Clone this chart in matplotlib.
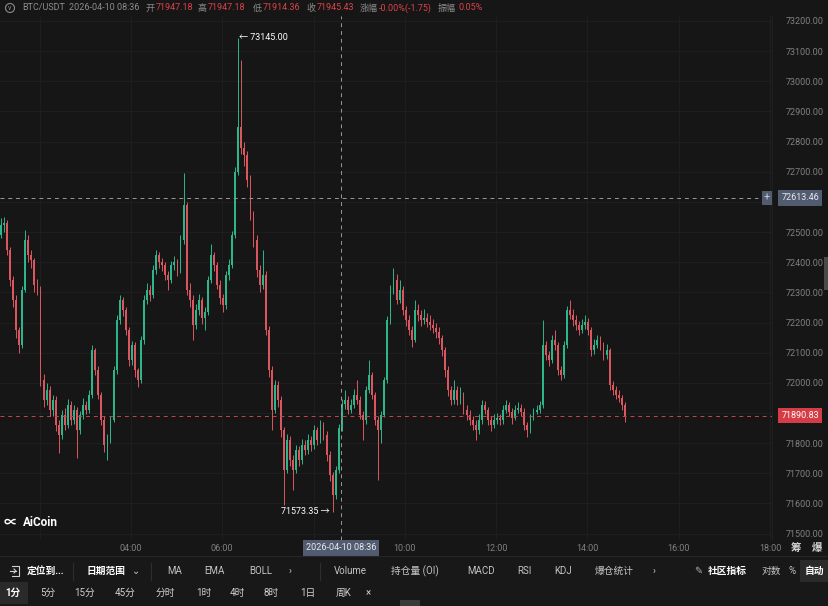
import numpy as np
import matplotlib.pyplot as plt
from matplotlib.patches import Rectangle, Circle
from matplotlib.transforms import blended_transform_factory

plt.rcParams['font.family'] = ['Roboto', 'Noto Sans CJK SC', 'DejaVu Sans']

# --- data (4-minute bars) ---
bar_start = 65          # minutes after midnight, centre of first bar
bar_minutes = 4
first_open = 72460

closes = [
    72490, 72525, 72530, 72440, 72340, 72275, 72175, 72125, 72308, 72474,
    72424, 72407, 72325, 72308, 72009, 71943, 71976, 71910, 71943, 71860,
    71827, 71893, 71860, 71927, 71877, 71910, 71843, 71893, 71927, 71910,
    71960, 72109, 72042, 71960, 71877, 71794, 71810, 71877, 72042, 72208,
    72275, 72241, 72175, 72076, 72125, 72042, 72009, 72142, 72275, 72308,
    72291, 72374, 72424, 72400, 72390, 72358, 72341, 72390, 72400, 72374,
    72474, 72590, 72308, 72275, 72192, 72241, 72275, 72215, 72235, 72341,
    72424, 72390, 72325, 72281, 72258, 72358, 72390, 72490, 72700, 72850,
    72780, 72755, 72672, 72556, 72474, 72374, 72325, 72358, 72175, 72042,
    71910, 71993, 71943, 71843, 71711, 71810, 71744, 71711, 71777, 71744,
    71794, 71777, 71810, 71794, 71843, 71810, 71860, 71827, 71760, 71694,
    71628, 71711, 71850, 71930, 71943, 71910, 71927, 71960, 71943, 71893,
    71877, 71976, 72026, 71960, 71877, 71843, 71893, 72009, 72208, 72308,
    72341, 72275, 72308, 72241, 72208, 72175, 72142, 72241, 72225, 72208,
    72215, 72201, 72192, 72182, 72170, 72150, 72109, 72042, 71976, 71943,
    71976, 71943, 71960, 71910, 71893, 71877, 71860, 71843, 71877, 71927,
    71910, 71877, 71860, 71877, 71883, 71877, 71910, 71927, 71903, 71883,
    71910, 71917, 71903, 71860, 71843, 71883, 71903, 71910, 71927, 72125,
    72092, 72076, 72142, 72125, 72042, 72026, 72125, 72241, 72225, 72208,
    72192, 72175, 72192, 72201, 72175, 72109, 72125, 72142, 72125, 72092,
    72109, 71993, 71976, 71960, 71950, 71927, 71891,
]
highs = [
    72530, 72545, 72550, 72540, 72450, 72355, 72290, 72185, 72320, 72507,
    72490, 72440, 72415, 72345, 72320, 72030, 72000, 71990, 71960, 71955,
    71875, 71910, 71915, 71945, 71940, 71925, 71920, 71905, 71950, 71940,
    71975, 72125, 72115, 72055, 71970, 71890, 71830, 71890, 72055, 72225,
    72290, 72285, 72250, 72185, 72140, 72135, 72050, 72155, 72290, 72330,
    72325, 72390, 72440, 72435, 72415, 72400, 72370, 72405, 72420, 72410,
    72490, 72696, 72600, 72330, 72290, 72260, 72295, 72285, 72250, 72355,
    72460, 72435, 72400, 72340, 72295, 72370, 72410, 72505, 72715, 73145,
    73070, 72800, 72770, 72690, 72570, 72490, 72390, 72440, 72370, 72190,
    72055, 72010, 72005, 71955, 71855, 71830, 71825, 71760, 71795, 71790,
    71815, 71810, 71830, 71825, 71860, 71855, 71877, 71870, 71840, 71775,
    71705, 71725, 71865, 71947, 71976, 71955, 71945, 71980, 72009, 71955,
    71905, 71990, 72076, 72035, 71970, 71890, 71905, 72020, 72220, 72325,
    72381, 72360, 72340, 72320, 72255, 72225, 72190, 72275, 72260, 72240,
    72245, 72230, 72225, 72210, 72200, 72185, 72160, 72120, 72055, 71990,
    72009, 71990, 71985, 71970, 71925, 71910, 71890, 71875, 71895, 71943,
    71940, 71920, 71890, 71895, 71900, 71895, 71925, 71943, 71935, 71915,
    71925, 71935, 71930, 71915, 71870, 71895, 71915, 71925, 71940, 72208,
    72140, 72105, 72160, 72175, 72135, 72055, 72140, 72255, 72275, 72245,
    72225, 72205, 72210, 72225, 72215, 72185, 72145, 72160, 72155, 72135,
    72130, 72115, 72005, 71990, 71975, 71960, 71935,
]
lows = [
    72445, 72480, 72500, 72425, 72320, 72250, 72150, 72100, 72115, 72300,
    72400, 72380, 72300, 72290, 71990, 71920, 71925, 71890, 71890, 71840,
    71767, 71815, 71845, 71850, 71860, 71865, 71750, 71830, 71880, 71895,
    71900, 71950, 72025, 71945, 71860, 71770, 71744, 71800, 71870, 72030,
    72195, 72220, 72160, 72055, 72060, 72020, 71985, 72000, 72130, 72260,
    72270, 72280, 72360, 72380, 72370, 72340, 72308, 72330, 72375, 72355,
    72365, 72460, 72290, 72250, 72142, 72180, 72225, 72195, 72175, 72225,
    72330, 72370, 72310, 72260, 72235, 72245, 72340, 72380, 72480, 72690,
    72760, 72720, 72650, 72540, 72450, 72350, 72300, 72310, 72160, 72020,
    71843, 71900, 71920, 71820, 71595, 71700, 71725, 71644, 71700, 71725,
    71730, 71760, 71765, 71775, 71780, 71795, 71800, 71810, 71740, 71675,
    71573, 71615, 71700, 71840, 71914, 71895, 71900, 71915, 71930, 71880,
    71810, 71865, 71965, 71945, 71860, 71678, 71800, 71885, 72000, 72195,
    72295, 72260, 72265, 72225, 72190, 72160, 72120, 72135, 72205, 72190,
    72195, 72185, 72175, 72165, 72150, 72130, 72090, 72020, 71955, 71925,
    71930, 71925, 71930, 71895, 71875, 71860, 71843, 71810, 71830, 71865,
    71895, 71860, 71840, 71850, 71865, 71860, 71865, 71900, 71890, 71865,
    71875, 71900, 71890, 71845, 71820, 71835, 71875, 71895, 71900, 71915,
    72075, 72055, 72065, 72110, 72025, 72009, 72015, 72115, 72210, 72190,
    72175, 72160, 72165, 72180, 72160, 72090, 72095, 72115, 72110, 72075,
    72080, 71975, 71960, 71945, 71935, 71910, 71870,
]

price_ticks = list(range(71500, 73201, 100))
hidden_price_labels = [72600, 71900]   # covered by the marker boxes
time_tick_min = [240, 360, 600, 720, 840, 960, 1080]
time_tick_labels = ['04:00', '06:00', '10:00', '12:00', '14:00', '16:00', '18:00']
grid_min = [120, 240, 360, 480, 600, 720, 840, 960, 1080]

crosshair_min = 516           # 08:36
crosshair_price = 72613.46
last_price = 71890.83
peak_price, peak_bar = 73145.00, 79
trough_price, trough_bar = 71573.35, 110

header = [
    (22, 'BTC/USDT', 'label'), (69, '2026-04-10 08:36', 'label'),
    (146, '开', 'label'), (156, '71947.18', 'value'),
    (198, '高', 'label'), (208, '71947.18', 'value'),
    (253, '低', 'label'), (263, '71914.36', 'value'),
    (306, '收', 'label'), (317, '71945.43', 'value'),
    (360, '涨幅', 'label'), (379, '-0.00%(-1.75)', 'value'),
    (438, '振幅', 'label'), (459, '0.05%', 'value'),
]
toolbar1 = [
    (27, '定位到...', True), (87, '日期范围', True), (132, '⌄', False),
    (167, 'MA', False), (204, 'EMA', False), (249, 'BOLL', False), (289, '›', False),
    (334, 'Volume', False), (391, '持仓量 (OI)', False), (467, 'MACD', False),
    (517, 'RSI', False), (554, 'KDJ', False), (595, '爆仓统计', False), (653, '›', False),
    (708, '社区指标', True), (762, '对数', False), (789, '%', False), (805, '自动', True),
]
toolbar2 = ['1分', '5分', '15分', '45分', '分时', '1时', '4时', '8时', '1日', '周K', '×']
toolbar2_x = [5, 40, 74, 115, 156, 196, 230, 264, 300, 336, 366]

# --- colours ---
BG = '#161616'
UP = '#2bb68c'
DOWN = '#dc5660'
GRID = '#202020'
AXIS_TXT = '#808080'
SLATE = '#525c70'
RED_BOX = '#d63c45'

W, H = 829, 606
fig = plt.figure(figsize=(W / 100, H / 100), dpi=100, facecolor=BG)

ax_l, ax_r, ax_t, ax_b = 0, 772, 16, 540
ax = fig.add_axes([ax_l / W, 1 - ax_b / H, (ax_r - ax_l) / W, (ax_b - ax_t) / H])
ax.set_facecolor(BG)
px_per_100 = 30.15
ymax = 73200 + (21 - ax_t) / px_per_100 * 100
ymin = ymax - (ax_b - ax_t) / px_per_100 * 100
ax.set_ylim(ymin, ymax)
ax.set_xlim(67.8, 67.8 + (ax_r - ax_l) / 0.7608)

for s in ['top', 'left', 'bottom']:
    ax.spines[s].set_visible(False)
ax.spines['right'].set_color('#232323')
ax.spines['right'].set_linewidth(0.6)

for p in price_ticks:
    ax.axhline(p, color=GRID, lw=0.6, zorder=0)
for m in grid_min:
    ax.axvline(m, color=GRID, lw=0.6, zorder=0)

# candles
n = len(closes)
t = bar_start + bar_minutes * np.arange(n)
c = np.array(closes, float)
o = np.array([first_open] + closes[:-1], float)
hi = np.maximum(np.array(highs, float), np.maximum(o, c))
lo = np.minimum(np.array(lows, float), np.minimum(o, c))
cols = np.where(c >= o, UP, DOWN)
ax.vlines(t, lo, hi, colors=cols, lw=0.7, zorder=2)
body_lo = np.minimum(o, c)
body_h = np.maximum(np.abs(c - o), 3)
ax.bar(t, body_h, bottom=body_lo, width=2.4, color=cols, lw=0, zorder=3)

# reference lines
ax.axhline(crosshair_price, xmax=758 / 772, color='#9a9a9a', lw=0.7, ls=(0, (4, 4)), zorder=4)
ax.axvline(crosshair_min, color='#9a9a9a', lw=0.7, ls=(0, (4, 4)), zorder=4)
ax.axhline(last_price, xmax=775 / 772, color='#c9444a', lw=0.7, ls=(0, (4, 4)), zorder=4)

# axis ticks
ax.yaxis.tick_right()
ax.set_yticks(price_ticks)
ax.set_yticklabels(['' if p in hidden_price_labels else f'{p:.2f}' for p in price_ticks])
ax.set_xticks(time_tick_min)
ax.set_xticklabels(time_tick_labels)
ax.tick_params(axis='y', length=0, pad=10, labelsize=6.5, labelcolor=AXIS_TXT)
ax.tick_params(axis='x', length=0, pad=3, labelsize=6.5, labelcolor=AXIS_TXT)

# extreme annotations
ax.text(t[peak_bar] + 1, peak_price, f'← {peak_price:.2f}', color='white',
        fontsize=6.5, va='center', ha='left', zorder=6)
ax.text(t[trough_bar] - 4, trough_price, f'{trough_price:.2f} →', color='white',
        fontsize=6.5, va='center', ha='right', zorder=6)

# price label boxes on the right axis
bl = blended_transform_factory(ax.transAxes, ax.transData)
ax.text(1.012, crosshair_price, f'{crosshair_price:.2f}', transform=bl, color='#e6e9ef',
        fontsize=6.5, va='center', ha='left', clip_on=False, zorder=7,
        bbox=dict(boxstyle='square,pad=0.35', fc=SLATE, ec='none'))
ax.text(0.9935, crosshair_price, '+', transform=bl, color='#c8ccd4',
        fontsize=8, va='center', ha='center', clip_on=False, zorder=7,
        bbox=dict(boxstyle='square,pad=0.15', fc=SLATE, ec='none'))
ax.text(1.012, last_price, f'{last_price:.2f}', transform=bl, color='white',
        fontsize=6.5, va='center', ha='left', clip_on=False, zorder=7,
        bbox=dict(boxstyle='square,pad=0.35', fc=RED_BOX, ec='none'))

# crosshair time box
bx = blended_transform_factory(ax.transData, ax.transAxes)
ax.text(crosshair_min, -(548 - ax_b) / (ax_b - ax_t), '2026-04-10 08:36', transform=bx,
        color='#e6e9ef', fontsize=6.5, va='center', ha='center', clip_on=False, zorder=7,
        bbox=dict(boxstyle='square,pad=0.35', fc=SLATE, ec='none'))

# --- overlay in pixel coordinates for UI chrome ---
ov = fig.add_axes([0, 0, 1, 1], zorder=10)
ov.set_xlim(0, W)
ov.set_ylim(H, 0)
ov.axis('off')
ov.patch.set_alpha(0)

ov.add_patch(Circle((10, 8), 4.5, fill=False, ec='#8a8a8a', lw=0.8))
ov.text(10, 8.5, 'v', color='#8a8a8a', fontsize=5, ha='center', va='center')
for x, s, kind in header:
    ov.text(x, 8, s, color='#8c8c8c' if kind == 'label' else '#d9434a',
            fontsize=6.5, ha='left', va='center')

ov.text(791, 548, '筹', color='#d8d8d8', fontsize=7.5, fontweight='bold', ha='left', va='center')
ov.text(812, 548, '爆', color='#d8d8d8', fontsize=7.5, fontweight='bold', ha='left', va='center')

ov.text(4, 523, '∝', color='white', fontsize=10, fontweight='bold', ha='left', va='center')
ov.text(23, 523, 'AiCoin', color='white', fontsize=8.5, fontweight='bold', ha='left', va='center')

# toolbar
ov.plot([0, W], [556, 556], color='#262626', lw=0.8)
ov.add_patch(Rectangle((0, 557), W, 49, fc='#181818', ec='none', zorder=0))
ov.add_patch(Rectangle((800, 560), 29, 22, fc='#2a2a2a', ec='none'))
ov.add_patch(Rectangle((0, 582), 28, 22, fc='#2a2a2a', ec='none'))
for sx in [73, 151, 320]:
    ov.plot([sx, sx], [563, 580], color='#2e2e2e', lw=0.8)
# "locate" icon drawn as a shape (no installed font has the glyph)
ov.plot([12, 19, 19, 12], [566, 566, 576, 576], color='#d0d0d0', lw=0.8)
ov.plot([10, 16], [571, 571], color='#d0d0d0', lw=0.8)
ov.plot([14, 16, 14], [569, 571, 573], color='#d0d0d0', lw=0.8)
ov.text(694, 571, '✎', color='#b0b0b0', fontsize=7, ha='left', va='center')
for x, s, bold in toolbar1:
    ov.text(x, 571, s, color='white' if bold else '#c4c4c4', fontsize=7,
            fontweight='bold' if bold else 'normal', ha='left', va='center')
for x, s in zip(toolbar2_x, toolbar2):
    ov.text(x, 593, s, color='white' if s == '1分' else '#d0d0d0', fontsize=7,
            fontweight='bold' if s == '1分' else 'normal', ha='left', va='center')

# small side tabs
ov.add_patch(Rectangle((824, 257), 5, 33, fc='#4a4a4a', ec='none'))
ov.add_patch(Rectangle((400, 600), 20, 6, fc='#3a3a3a', ec='none'))

fig.savefig('out.png', dpi=100, facecolor=BG)
